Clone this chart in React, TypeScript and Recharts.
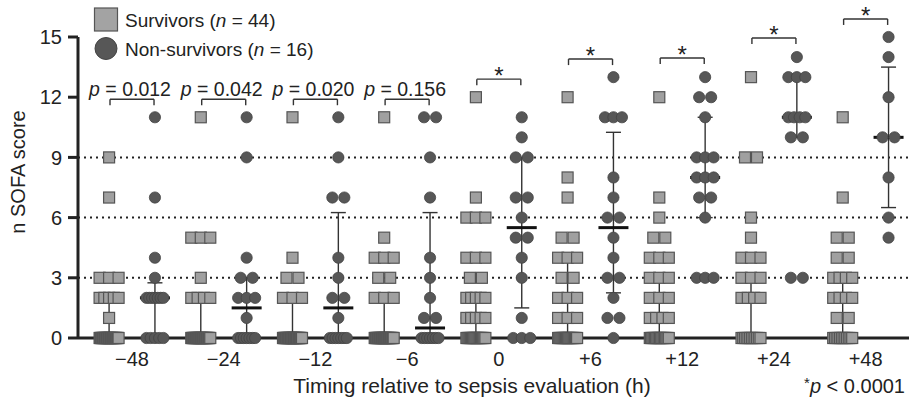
import React from 'react';
import { ScatterChart, Scatter, XAxis, YAxis, CartesianGrid, ReferenceLine } from 'recharts';

// ---------- data ----------
const timepoints = ['\u221248', '\u221224', '\u221212', '\u22126', '0', '+6', '+12', '+24', '+48'];
const yTicks = [0, 3, 6, 9, 12, 15];
const gridValues = [3, 6, 9];

// [SOFA score, number of patients] per timepoint
const survivorCounts: [number, number][][] = [
  [[0, 29], [1, 1], [2, 5], [3, 3], [7, 1], [9, 1]],
  [[0, 30], [2, 4], [3, 1], [5, 3], [11, 1]],
  [[0, 32], [2, 3], [3, 2], [4, 1], [11, 1]],
  [[0, 30], [2, 3], [3, 2], [4, 3], [5, 1], [11, 1]],
  [[0, 18], [1, 5], [2, 5], [3, 2], [4, 3], [6, 3], [7, 1], [12, 1]],
  [[0, 18], [1, 3], [2, 3], [3, 2], [4, 3], [5, 2], [7, 1], [8, 1], [12, 1]],
  [[0, 16], [1, 4], [2, 3], [3, 3], [4, 3], [5, 2], [6, 1], [7, 1], [12, 1]],
  [[0, 12], [2, 4], [3, 3], [4, 3], [5, 1], [6, 1], [9, 2], [13, 1]],
  [[0, 12], [1, 2], [2, 4], [3, 4], [4, 2], [5, 2], [7, 1], [11, 1]],
];
const nonSurvivorCounts: [number, number][][] = [
  [[0, 5], [2, 7], [3, 1], [4, 1], [7, 1], [11, 1]],
  [[0, 7], [1, 1], [2, 3], [3, 2], [4, 1], [9, 1], [11, 1]],
  [[0, 7], [1, 1], [2, 2], [3, 1], [4, 1], [7, 2], [9, 1], [11, 1]],
  [[0, 7], [1, 2], [2, 1], [3, 1], [4, 1], [7, 1], [9, 1], [11, 2]],
  [[0, 3], [1, 1], [3, 1], [4, 1], [5, 2], [6, 1], [7, 2], [9, 2], [10, 1], [11, 1]],
  [[0, 1], [1, 2], [2, 1], [3, 2], [4, 1], [5, 1], [6, 2], [7, 1], [8, 1], [11, 3], [13, 1]],
  [[3, 3], [6, 1], [7, 2], [8, 3], [9, 3], [11, 1], [12, 2], [13, 1]],
  [[3, 2], [10, 2], [11, 4], [13, 3], [14, 1]],
  [[5, 1], [6, 1], [8, 1], [10, 2], [12, 1], [14, 1], [15, 1]],
];

// median and interquartile range
const survivorMedian = [0, 0, 0, 0, 1, 1, 1, 2, 2];
const survivorQ1 = [0, 0, 0, 0, 0, 0, 0, 0, 0];
const survivorQ3 = [1.75, 2, 2, 2, 2, 4, 3, 3, 3];
const nonSurvivorMedian = [2, 1.5, 1.5, 0.5, 5.5, 5.5, 8, 11, 10];
const nonSurvivorQ1 = [0, 0, 0, 0, 1.5, 2.25, 6, 10, 6.5];
const nonSurvivorQ3 = [2.75, 3, 6.25, 6.25, 9, 10.25, 11, 13, 13.5];

// comparison annotations
const comparisonLabels = ['p = 0.012', 'p = 0.042', 'p = 0.020', 'p = 0.156', '*', '*', '*', '*', '*'];
const bracketLevels = [11.9, 11.9, 11.9, 11.9, 12.9, 13.9, 13.95, 14.95, 15.9];

// ---------- layout ----------
const W = 909;
const H = 404;
const MARGIN = { top: 37, right: 0, bottom: 36, left: 18 };
const Y_AXIS_W = 60;
const X_AXIS_H = 30;
const X_MIN = -0.589;
const X_MAX = 8.473;
const PX_PER_UNIT = (W - MARGIN.left - Y_AXIS_W - MARGIN.right) / (X_MAX - X_MIN);
const GROUP_OFFSET = 0.25;
const FONT = '"Liberation Sans", Arial, Helvetica, sans-serif';
const TEXT = '#222';

function spreadOffsets(n: number, maxHalf: number): number[] {
  if (n <= 1) return [0];
  const half = Math.min((n - 1) * 6, maxHalf);
  return Array.from({ length: n }, (_, k) => -half + (2 * half * k) / (n - 1));
}

function buildPoints(counts: [number, number][][], side: number, maxHalf: number) {
  return counts.flatMap((group, i) =>
    group.flatMap(([score, n]) =>
      spreadOffsets(n, maxHalf).map((dx) => ({
        x: i + side * GROUP_OFFSET + dx / PX_PER_UNIT,
        y: score,
      }))
    )
  );
}

const survivorPoints = buildPoints(survivorCounts, -1, 9.5);
const nonSurvivorPoints = buildPoints(nonSurvivorCounts, 1, 8.5);

const SquareShape = (props: any) => {
  const { cx, cy } = props;
  if (cx == null || cy == null) return null;
  return <rect x={cx - 5.5} y={cy - 5.5} width={11} height={11} fill="#a0a0a0" stroke="#555" strokeWidth={1.2} />;
};
const CircleShape = (props: any) => {
  const { cx, cy } = props;
  if (cx == null || cy == null) return null;
  return <circle cx={cx} cy={cy} r={5.6} fill="#575757" stroke="#444" strokeWidth={0.8} />;
};

const BracketLabel = (props: any) => {
  const { viewBox, text } = props;
  if (!viewBox) return null;
  const cx = viewBox.x + viewBox.width / 2;
  if (text === '*') {
    return (
      <text x={cx} y={viewBox.y + 5} textAnchor="middle" fontSize={24} fill={TEXT} fontFamily={FONT}>
        *
      </text>
    );
  }
  const rest = text.slice(1);
  return (
    <text x={cx - 2} y={viewBox.y - 3} textAnchor="middle" fontSize={19.5} fill={TEXT} fontFamily={FONT}>
      <tspan fontStyle="italic">p</tspan>
      {rest}
    </text>
  );
};

function summarySegments(median: number[], q1: number[], q3: number[], side: number, keyPrefix: string) {
  const els: React.ReactNode[] = [];
  const medHalf = 15 / PX_PER_UNIT;
  const capHalf = 7.5 / PX_PER_UNIT;
  median.forEach((m, i) => {
    const c = i + side * GROUP_OFFSET;
    els.push(
      <ReferenceLine key={`${keyPrefix}-iqr-${i}`} segment={[{ x: c, y: q1[i] }, { x: c, y: q3[i] }]} stroke="#333" strokeWidth={1.4} ifOverflow="visible" />,
      <ReferenceLine key={`${keyPrefix}-c1-${i}`} segment={[{ x: c - capHalf, y: q1[i] }, { x: c + capHalf, y: q1[i] }]} stroke="#333" strokeWidth={1.4} ifOverflow="visible" />,
      <ReferenceLine key={`${keyPrefix}-c3-${i}`} segment={[{ x: c - capHalf, y: q3[i] }, { x: c + capHalf, y: q3[i] }]} stroke="#333" strokeWidth={1.4} ifOverflow="visible" />,
      <ReferenceLine key={`${keyPrefix}-med-${i}`} segment={[{ x: c - medHalf, y: m }, { x: c + medHalf, y: m }]} stroke="#111" strokeWidth={3} ifOverflow="visible" />
    );
  });
  return els;
}

function bracketSegments() {
  const els: React.ReactNode[] = [];
  const half = 0.24;
  const leg = 0.3;
  comparisonLabels.forEach((label, i) => {
    const lv = bracketLevels[i];
    els.push(
      <ReferenceLine key={`br-h-${i}`} segment={[{ x: i - half, y: lv }, { x: i + half, y: lv }]} stroke="#333" strokeWidth={1.4} ifOverflow="visible" label={<BracketLabel text={label} />} />,
      <ReferenceLine key={`br-l-${i}`} segment={[{ x: i - half, y: lv }, { x: i - half, y: lv - leg }]} stroke="#333" strokeWidth={1.4} ifOverflow="visible" />,
      <ReferenceLine key={`br-r-${i}`} segment={[{ x: i + half, y: lv }, { x: i + half, y: lv - leg }]} stroke="#333" strokeWidth={1.4} ifOverflow="visible" />
    );
  });
  return els;
}

const legendItems = [
  { label: 'Survivors', n: 44, shape: 'square' },
  { label: 'Non-survivors', n: 16, shape: 'circle' },
];

export default function App() {
  return (
    <div style={{ position: 'absolute', left: 0, top: 0, width: W, height: H, background: '#fff' }}>
      <ScatterChart width={W} height={H} margin={MARGIN} style={{ fontFamily: FONT }}>
        <CartesianGrid vertical={false} horizontalValues={gridValues} stroke="#222" strokeWidth={2} strokeDasharray="2 4" />
        <XAxis
          type="number"
          dataKey="x"
          domain={[X_MIN, X_MAX]}
          allowDataOverflow
          ticks={timepoints.map((_, i) => i)}
          tickFormatter={(v: number) => timepoints[Math.round(v)] ?? ''}
          height={X_AXIS_H}
          tickLine={false}
          tickSize={0}
          tickMargin={14}
          axisLine={{ stroke: '#222', strokeWidth: 3 }}
          tick={{ fill: TEXT, fontSize: 20, fontFamily: FONT }}
          interval={0}
        />
        <YAxis
          type="number"
          dataKey="y"
          domain={[0, 15]}
          ticks={yTicks}
          width={Y_AXIS_W}
          tickSize={10}
          tickMargin={6}
          axisLine={{ stroke: '#222', strokeWidth: 3 }}
          tickLine={{ stroke: '#222', strokeWidth: 3 }}
          tick={{ fill: TEXT, fontSize: 20, fontFamily: FONT }}
          interval={0}
        />
        <Scatter data={survivorPoints} shape={SquareShape} isAnimationActive={false} />
        <Scatter data={nonSurvivorPoints} shape={CircleShape} isAnimationActive={false} />
        {summarySegments(survivorMedian, survivorQ1, survivorQ3, -1, 's')}
        {summarySegments(nonSurvivorMedian, nonSurvivorQ1, nonSurvivorQ3, 1, 'n')}
        {bracketSegments()}
      </ScatterChart>
      <svg width={W} height={H} style={{ position: 'absolute', left: 0, top: 0, pointerEvents: 'none' }} fontFamily={FONT}>
        {legendItems.map((item, k) => {
          const cy = 19.5 + k * 29;
          return (
            <g key={item.label}>
              {item.shape === 'square' ? (
                <rect x={94.5} y={cy - 11.5} width={23} height={23} fill="#a3a3a3" stroke="#555" strokeWidth={1.2} />
              ) : (
                <circle cx={106} cy={cy} r={11} fill="#575757" stroke="#444" strokeWidth={1} />
              )}
              <text x={125} y={cy + 7} fontSize={19} fill={TEXT}>
                {item.label} (<tspan fontStyle="italic">n</tspan> = {item.n})
              </text>
            </g>
          );
        })}
        <text x={25} y={172} transform="rotate(-90 25 172)" textAnchor="middle" fontSize={20} fill={TEXT}>
          n SOFA score
        </text>
        <text x={472} y={393} textAnchor="middle" fontSize={21} fill={TEXT}>
          Timing relative to sepsis evaluation (h)
        </text>
        <text x={905} y={393} textAnchor="end" fontSize={20} fill={TEXT}>
          <tspan fontSize={15} dy={-5}>*</tspan>
          <tspan fontStyle="italic" dy={5}>p</tspan> &lt; 0.0001
        </text>
      </svg>
    </div>
  );
}
